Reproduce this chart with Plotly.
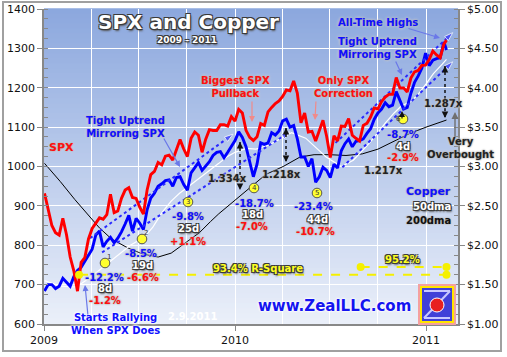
import plotly.graph_objects as go
import pandas as pd

# ---------------- data ----------------
week_dates = list(pd.date_range("2009-01-02", "2011-02-04", freq="W-FRI").strftime("%Y-%m-%d")) + ["2011-02-09"]

spx = [
    931.8, 890.4, 850.1, 831.9, 825.9, 868.6, 826.8, 770.1, 735.1, 683.4,
    756.6, 768.5, 815.9, 842.5, 856.6, 869.6, 866.2, 877.5, 929.2, 882.9,
    887.0, 919.1, 940.1, 946.2, 921.2, 918.9, 896.4, 879.1, 940.4, 979.3,
    987.5, 1010.5, 1004.1, 1026.1, 1028.9, 1016.4, 1042.7, 1068.3, 1044.4, 1025.2,
    1071.5, 1087.7, 1079.6, 1036.2, 1069.3, 1093.5, 1091.4, 1091.5, 1106.0, 1106.4,
    1102.5, 1126.5, 1115.1,
    1145.0, 1136.0, 1091.8, 1073.9, 1066.2, 1075.5, 1109.2, 1104.5, 1138.7, 1150.0,
    1159.9, 1166.6, 1178.1, 1194.4, 1192.1, 1217.3, 1186.7, 1110.9, 1135.7, 1087.7,
    1089.4, 1064.9, 1091.6, 1117.5, 1076.8, 1022.6, 1078.0, 1064.9, 1102.7, 1101.6,
    1121.6, 1079.3, 1071.7, 1064.6, 1104.5, 1109.6, 1125.6, 1148.7, 1146.2, 1165.2,
    1176.2, 1183.1, 1183.3, 1225.9, 1199.2, 1199.7, 1189.4, 1224.7, 1240.4, 1243.9,
    1256.8, 1257.6,
    1271.5, 1293.2, 1283.4, 1276.3, 1310.9, 1320.9,
]

copper = [
    1.42, 1.50, 1.50, 1.45, 1.48, 1.58, 1.53, 1.48, 1.60, 1.68,
    1.72, 1.80, 1.88, 1.95, 2.13, 2.18, 1.98, 2.05, 2.10, 2.03,
    2.09, 2.17, 2.27, 2.38, 2.18, 2.34, 2.28, 2.20, 2.45, 2.60,
    2.66, 2.75, 2.78, 2.82, 2.83, 2.75, 2.86, 2.87, 2.77, 2.70,
    2.92, 2.99, 3.05, 2.95, 3.00, 3.06, 3.14, 3.18, 3.19, 3.11,
    3.18, 3.25, 3.33,
    3.44, 3.37, 3.25, 3.06, 2.87, 3.03, 3.30, 3.28, 3.30, 3.43,
    3.40, 3.45, 3.58, 3.60, 3.50, 3.52, 3.35, 3.12, 3.12, 3.00,
    3.10, 2.80, 2.87, 2.99, 2.95, 2.86, 3.03, 2.98, 3.20, 3.29,
    3.35, 3.25, 3.32, 3.33, 3.35, 3.42, 3.48, 3.60, 3.68, 3.73,
    3.81, 3.76, 3.78, 3.95, 3.85, 3.73, 3.75, 3.93, 4.07, 4.15,
    4.25, 4.44,
    4.28, 4.35, 4.37, 4.38, 4.58, 4.48,
]

dma50_dates = ["2009-01-02", "2009-02-01", "2009-03-01", "2009-03-15", "2009-04-01", "2009-04-21",
               "2009-05-15", "2009-06-01", "2009-06-15", "2009-07-03", "2009-07-15", "2009-07-28",
               "2009-08-15", "2009-09-01", "2009-09-17", "2009-10-01", "2009-10-15", "2009-11-01",
               "2009-11-15", "2009-12-01", "2009-12-16", "2010-01-01", "2010-01-23", "2010-02-10",
               "2010-03-06", "2010-03-25", "2010-04-19", "2010-05-16", "2010-06-09", "2010-06-24",
               "2010-07-23", "2010-08-15", "2010-09-01", "2010-09-15", "2010-10-01", "2010-10-15",
               "2010-11-01", "2010-11-15", "2010-12-01", "2010-12-15", "2011-01-01", "2011-01-15",
               "2011-02-01", "2011-02-09"]
dma50 = [1.55, 1.48, 1.47, 1.52, 1.60, 1.71,
         1.83, 1.93, 2.00, 2.07, 2.13, 2.23,
         2.42, 2.56, 2.66, 2.73, 2.80, 2.88,
         2.96, 3.04, 3.12, 3.18, 3.23, 3.22,
         3.27, 3.34, 3.43, 3.36, 3.21, 3.12,
         3.00, 3.08, 3.20, 3.30, 3.43, 3.55,
         3.68, 3.77, 3.82, 3.90, 4.05, 4.18,
         4.30, 4.36]

dma200_dates = ["2009-01-02", "2009-02-01", "2009-03-01", "2009-04-01", "2009-04-17", "2009-05-10",
                "2009-06-09", "2009-07-08", "2009-08-07", "2009-09-01", "2009-09-17", "2009-10-01",
                "2009-10-25", "2009-11-15", "2009-12-01", "2009-12-28", "2010-02-01", "2010-03-01",
                "2010-04-03", "2010-05-05", "2010-06-01", "2010-07-01", "2010-08-01", "2010-09-01",
                "2010-10-01", "2010-11-01", "2010-12-01", "2011-01-01", "2011-02-09"]
dma200 = [3.04, 2.81, 2.58, 2.35, 2.22, 2.08,
          1.97, 1.89, 1.85, 1.90, 1.98, 2.05,
          2.16, 2.30, 2.40, 2.55, 2.75, 2.90,
          3.00, 3.12, 3.15, 3.15, 3.14, 3.16,
          3.22, 3.32, 3.42, 3.50, 3.59]

# trend channels (dates, copper $)
chan_ll_up_x, chan_ll_up_y = ["2009-03-30", "2009-12-28"], [2.09, 3.41]
chan_ll_lo_x, chan_ll_lo_y = ["2009-04-22", "2010-04-16"], [1.91, 3.44]
chan_ur_up_x, chan_ur_up_y = ["2010-07-12", "2011-02-21"], [3.30, 4.70]
chan_ur_lo_x, chan_ur_lo_y = ["2010-07-25", "2011-02-21"], [2.99, 4.33]

# R-square ranges (dates, SPX level of the marker line)
rsq1_x, rsq1_y = ["2009-03-09", "2011-02-09"], [725, 725]
rsq2_x, rsq2_y = ["2010-08-29", "2011-02-09"], [745, 745]

spx_ticks = [600, 700, 800, 900, 1000, 1100, 1200, 1300, 1400]
cu_ticks = [1.0, 1.5, 2.0, 2.5, 3.0, 3.5, 4.0, 4.5, 5.0]
cu_tick_text = ["$1.00", "$1.50", "$2.00", "$2.50", "$3.00", "$3.50", "$4.00", "$4.50", "$5.00"]

assert len(week_dates) == len(spx) == len(copper)

# ---------------- layout helpers ----------------
L, R, T, B = 44, 458, 9, 324
W, H = R - L, B - T


def P(px, py):
    return (px - L) / W, (B - py) / H


DARK = "-1px -1px 0 #3a3a3a, 1px -1px 0 #3a3a3a, -1px 1px 0 #3a3a3a, 1px 1px 0 #3a3a3a, 1px 2px 2px #555"
LIGHT = "0 0 2px #9a9a9a, 0 0 2px #b0b0b0, 0 0 3px #ffffff"
WHITEHALO = "0 0 2px #ffffff, 0 0 3px #ffffff, 0 0 3px #ffffff"

annotations = []
shapes = []


def txt(text, px, py, color, size=10, shadow=LIGHT, xanchor="center", family="DejaVu Sans"):
    x, y = P(px, py)
    annotations.append(dict(text="<b>" + text + "</b>", x=x, y=y, xref="paper", yref="paper",
                            showarrow=False, xanchor=xanchor, yanchor="middle",
                            font=dict(family=family, size=size, color=color, shadow=shadow)))


def arrow(sx, sy, tx, ty, color, width=1.2, head=2, size=1.0):
    x, y = P(tx, ty)
    annotations.append(dict(text="", x=x, y=y, xref="paper", yref="paper", ax=sx - tx, ay=sy - ty,
                            showarrow=True, arrowhead=head, arrowsize=size, arrowwidth=width,
                            arrowcolor=color))


def dotted_double(px, y_top, y_bot):
    x0, yt = P(px, y_top)
    _, yb = P(px, y_bot)
    shapes.append(dict(type="line", xref="paper", yref="paper", x0=x0, x1=x0, y0=yt, y1=yb,
                       line=dict(color="#111111", width=1.5, dash="dot"), layer="above"))
    arrow(px, y_top + 6, px, y_top, "#111111", width=1.3, head=2)
    arrow(px, y_bot - 6, px, y_bot, "#111111", width=1.3, head=2)


def num_circle(label, px, py):
    r = 4.8
    x0, y0 = P(px - r, py + r)
    x1, y1 = P(px + r, py - r)
    shapes.append(dict(type="circle", xref="paper", yref="paper", x0=x0, y0=y0, x1=x1, y1=y1,
                       fillcolor="#ffff30", line=dict(color="#555555", width=1), layer="above"))
    x, y = P(px, py)
    annotations.append(dict(text=label, x=x, y=y + 0.001, xref="paper", yref="paper", showarrow=False,
                            font=dict(family="DejaVu Sans", size=7, color="#333333")))


# gradient plot background
N = 63
top_c, bot_c = (140, 168, 222), (234, 239, 249)
for i in range(N):
    f = i / (N - 1)
    c = tuple(int(round(top_c[k] + (bot_c[k] - top_c[k]) * f)) for k in range(3))
    shapes.append(dict(type="rect", xref="paper", yref="paper", x0=0, x1=1,
                       y0=1 - (i + 1) / N, y1=1 - i / N + 0.002,
                       fillcolor="rgb(%d,%d,%d)" % c, line=dict(width=0), layer="below"))

# outer frame
fx0, fy0 = P(3, 351)
fx1, fy1 = P(501, 2)
shapes.append(dict(type="rect", xref="paper", yref="paper", x0=fx0, y0=fy0, x1=fx1, y1=fy1,
                   line=dict(color="#a0a0a0", width=2), fillcolor="rgba(0,0,0,0)", layer="above"))

# logo
lx0, ly0 = P(419, 324)
lx1, ly1 = P(455, 285)
shapes.append(dict(type="rect", xref="paper", yref="paper", x0=lx0, y0=ly0, x1=lx1, y1=ly1,
                   line=dict(color="#f4a0a0", width=2), fillcolor="rgba(0,0,0,0)", layer="above"))
lx0, ly0 = P(421, 322)
lx1, ly1 = P(453, 287)
shapes.append(dict(type="rect", xref="paper", yref="paper", x0=lx0, y0=ly0, x1=lx1, y1=ly1,
                   line=dict(color="#ffe600", width=2), fillcolor="#4040d8", layer="above"))
for (a, b, c2, d) in [(424, 291, 450, 291), (450, 291, 424, 318), (424, 318, 450, 318)]:
    ax0, ay0 = P(a, b)
    ax1, ay1 = P(c2, d)
    shapes.append(dict(type="line", xref="paper", yref="paper", x0=ax0, y0=ay0, x1=ax1, y1=ay1,
                       line=dict(color="#c8c8ff", width=2), layer="above"))
cx0, cy0 = P(430, 312)
cx1, cy1 = P(444, 298)
shapes.append(dict(type="circle", xref="paper", yref="paper", x0=cx0, y0=cy0, x1=cx1, y1=cy1,
                   fillcolor="#e82020", line=dict(color="#ffffff", width=1), layer="above"))

# ---------------- texts ----------------
txt("SPX and Copper", 188, 22, "#ffffff", size=20, shadow=DARK)
txt("2009 - 2011", 187, 40, "#ffffff", size=9, shadow=DARK)
txt("SPX", 61, 147, "#ff1010", size=11)
txt("Tight Uptrend<br>Mirroring SPX", 125, 127, "#1010ff", size=10)
txt("Biggest SPX<br>Pullback", 235, 87, "#ff1010", size=10)
txt("Only SPX<br>Correction", 343, 87, "#ff1010", size=10)
txt("All-Time Highs", 378, 23, "#1010ff", size=10)
txt("Tight Uptrend<br>Mirroring SPX", 377, 48, "#1010ff", size=10)
txt("Very<br>Overbought", 460, 148, "#222222", size=10)
txt("Copper", 453, 192, "#1010ff", size=11, xanchor="right")
txt("50dma", 453, 206, "#ffffff", size=10, shadow=DARK, xanchor="right")
txt("200dma", 453, 220, "#111111", size=10, xanchor="right")
txt("1.334x", 227, 178, "#222222", size=10)
txt("1.218x", 281, 174, "#222222", size=10)
txt("1.217x", 383, 170, "#222222", size=10)
txt("1.287x", 443, 103, "#222222", size=10)
txt("93.4% R-Square", 258, 268, "#ffff20", size=10, shadow=DARK)
txt("95.2%", 402, 259, "#ffff20", size=10, shadow=DARK)
txt("Starts Rallying<br>When SPX Does", 115, 324, "#1010ff", size=10, shadow=WHITEHALO)
txt("www.ZealLLC.com", 334, 306, "#1414f0", size=15, shadow=WHITEHALO)
txt("2.9.2011", 192, 316, "#ffffff", size=10, shadow="none")

# correction stats
stats = [
    ("-12.2%", "8d", "-1.2%", 104, 277, 105, 288, 105, 300),
    ("-8.5%", "19d", "-6.6%", 141, 253, 142, 265, 143, 277),
    ("-9.8%", "25d", "+1.1%", 188, 216, 188, 228, 188, 241),
    ("-18.7%", "18d", "-7.0%", 254, 203, 252, 214, 252, 226),
    ("-23.4%", "44d", "-10.7%", 313, 206, 317, 219, 315, 232),
    ("-8.7%", "4d", "-2.9%", 403, 134, 403, 146, 403, 157),
]
for cu, dd, sp, x1, y1, x2, y2, x3, y3 in stats:
    txt(cu, x1, y1, "#1010ff", size=10)
    txt(dd, x2, y2, "#ffffff", size=10, shadow=DARK)
    txt(sp, x3, y3, "#ff1010", size=10)

for lab, px, py in [("1", 105, 263), ("2", 142, 239), ("3", 188, 202), ("4", 254, 188),
                    ("5", 317, 193), ("6", 403, 119)]:
    num_circle(lab, px, py)

# pointer arrows
BL = "#6a78e8"
PK = "#f08a8a"
arrow(163, 137, 180, 167, BL)
arrow(252, 100, 252, 122, PK)
arrow(316, 100, 315, 120, PK)
arrow(407, 28, 440, 38, BL)
arrow(395, 60, 402, 75, BL)
arrow(455, 138, 455, 112, "#707070", width=1.4)
arrow(88, 316, 85, 285, BL)

dotted_double(240, 142, 190)
dotted_double(286, 128, 162)
dotted_double(445, 66, 118)
arrow(402, 120, 402, 111, "#111111", width=1.2)

# ---------------- traces ----------------
fig = go.Figure()
fig.add_trace(go.Scatter(x=dma200_dates, y=dma200, mode="lines", line=dict(color="#000000", width=1),
                         yaxis="y", hoverinfo="skip"))
fig.add_trace(go.Scatter(x=dma50_dates, y=dma50, mode="lines", line=dict(color="#ffffff", width=1.2),
                         yaxis="y", hoverinfo="skip"))
fig.add_trace(go.Scatter(x=week_dates, y=copper, mode="lines", line=dict(color="#0000ff", width=2.9),
                         yaxis="y", name="Copper"))
for cx, cy in [(chan_ll_up_x, chan_ll_up_y), (chan_ll_lo_x, chan_ll_lo_y),
               (chan_ur_up_x, chan_ur_up_y), (chan_ur_lo_x, chan_ur_lo_y)]:
    fig.add_trace(go.Scatter(x=cx, y=cy, mode="lines+markers", yaxis="y",
                             line=dict(color="#2a2aff", width=2, dash="dot"),
                             marker=dict(symbol=["circle", "arrow"], size=[0, 9], angleref="previous",
                                         color="#2a2aff"), hoverinfo="skip"))
fig.add_trace(go.Scatter(x=week_dates, y=spx, mode="lines", line=dict(color="#ff0000", width=2.9),
                         yaxis="y2", name="SPX"))
for rx, ry in [(rsq1_x, rsq1_y), (rsq2_x, rsq2_y)]:
    fig.add_trace(go.Scatter(x=rx, y=ry, mode="lines+markers", yaxis="y2",
                             line=dict(color="#f5f000", width=2, dash="dash"),
                             marker=dict(color="#f5f000", size=8), hoverinfo="skip"))

AX = "#888888"
TF = dict(family="DejaVu Sans", size=11, color="#111111")
fig.update_layout(
    width=507, height=357,
    margin=dict(l=L, r=507 - R, t=T, b=357 - B, autoexpand=False),
    paper_bgcolor="#ffffff", plot_bgcolor="#e8eef8",
    showlegend=False,
    xaxis=dict(type="date", range=["2009-01-01", "2011-03-03"], dtick="M12", tick0="2009-01-01",
               tickformat="%Y", showgrid=True, gridcolor="#ffffff", gridwidth=1,
               minor=dict(dtick="M3", showgrid=True, gridcolor="#ffffff", gridwidth=1, ticks=""),
               ticks="outside", ticklen=5, tickcolor=AX, showline=True, linecolor=AX, linewidth=1.5,
               zeroline=False, tickfont=TF),
    yaxis=dict(range=[1, 5], side="right", tickmode="array", tickvals=cu_ticks, ticktext=cu_tick_text,
               showgrid=True, gridcolor="#ffffff", gridwidth=1, zeroline=False,
               ticks="outside", ticklen=5, tickcolor=AX, showline=True, linecolor=AX, linewidth=1.5,
               minor=dict(dtick=0.125, tick0=1, ticks="inside", ticklen=4, tickcolor=AX, showgrid=False),
               tickfont=TF),
    yaxis2=dict(range=[600, 1400], side="left", overlaying="y", tickvals=spx_ticks,
                showgrid=False, zeroline=False,
                ticks="outside", ticklen=5, tickcolor=AX, showline=True, linecolor=AX, linewidth=1.5,
                minor=dict(dtick=25, tick0=600, ticks="inside", ticklen=4, tickcolor=AX, showgrid=False),
                tickfont=TF),
    annotations=annotations,
    shapes=shapes,
)

fig.write_html("out.html",
               config={"displayModeBar": False},
               post_script="document.body.style.margin='0';document.body.style.padding='0';"
                           "document.body.style.overflow='hidden';")
